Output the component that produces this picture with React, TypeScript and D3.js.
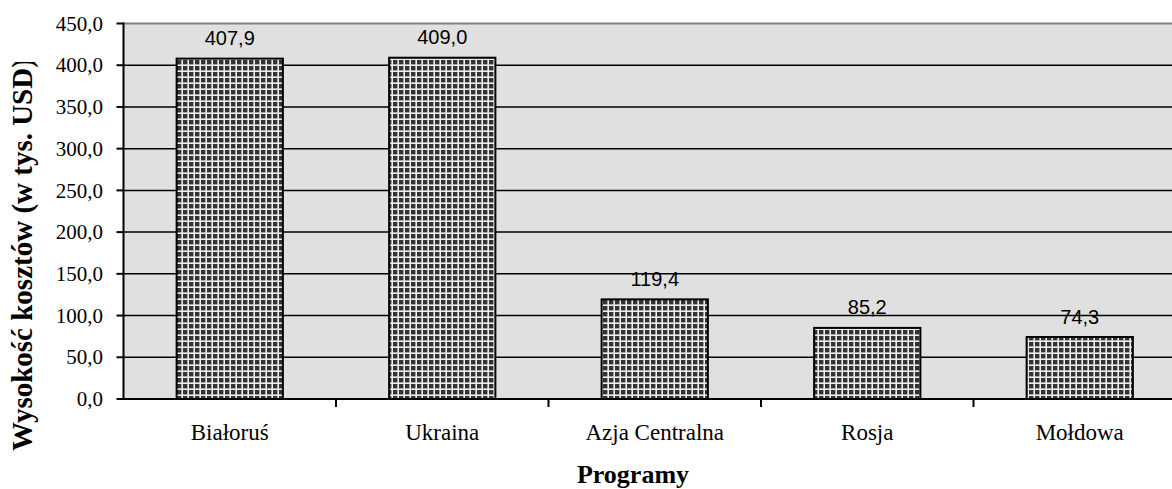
import React from "react";
import * as d3 from "d3";

const categories = ["Białoruś", "Ukraina", "Azja Centralna", "Rosja", "Mołdowa"];
const values = [407.9, 409.0, 119.4, 85.2, 74.3];
const yTicks = [0, 50, 100, 150, 200, 250, 300, 350, 400, 450];
const yTitle = "Wysokość kosztów (w tys. USD)";
const xTitle = "Programy";

const W = 1172;
const H = 489;
const left = 123.5;
const bandW = 212.5;
const top = 23.5;
const bottom = 399;

const SERIF = "'Liberation Serif', 'Times New Roman', serif";
const SANS = "'Liberation Sans', Arial, sans-serif";

const fmt = (v: number) => v.toFixed(1).replace(".", ",");

export default function App() {
  const x = d3
    .scaleBand<string>()
    .domain(categories)
    .range([left, left + bandW * categories.length])
    .paddingInner(0)
    .paddingOuter(0);
  const y = d3.scaleLinear().domain([0, 450]).range([bottom, top]);
  const barW = x.bandwidth() / 2;
  const right = left + bandW * categories.length;

  return (
    <svg
      width={W}
      height={H}
      style={{ position: "absolute", left: 0, top: 0, background: "#fff" }}
    >
      <defs>
        <pattern id="grid" width="6" height="6" patternUnits="userSpaceOnUse" x="177" y="0">
          <rect width="6" height="6" fill="#eeeeee" />
          <rect x="0" y="0" width="4.4" height="4.4" fill="#333333" />
        </pattern>
        <clipPath id="ytclip">
          <rect x="0" y="62" width="60" height="420" />
        </clipPath>
      </defs>
      {/* plot area */}
      <rect x={left} y={top} width={right - left} height={bottom - top} fill="#e0e0e0" />
      <line x1={left} x2={right} y1={top} y2={top} stroke="#808080" strokeWidth={2} />
      {yTicks
        .filter((t) => t > 0 && t < 450)
        .map((t) => (
          <line key={t} x1={left} x2={right} y1={y(t)} y2={y(t)} stroke="#000" strokeWidth={1.5} />
        ))}
      {/* bars */}
      {categories.map((c, i) => {
        const bx = (x(c) as number) + (x.bandwidth() - barW) / 2;
        return (
          <g key={c}>
            <rect
              x={bx}
              y={y(values[i])}
              width={barW}
              height={bottom - y(values[i])}
              fill="url(#grid)"
              stroke="#000"
              strokeWidth={2}
            />
            <text
              x={bx + barW / 2}
              y={y(values[i]) - 13.5}
              textAnchor="middle"
              fontFamily={SANS}
              fontSize={20}
              fill="#000"
            >
              {fmt(values[i])}
            </text>
            <text
              x={bx + barW / 2}
              y={440}
              textAnchor="middle"
              fontFamily={SERIF}
              fontSize={23}
              fill="#000"
            >
              {c}
            </text>
          </g>
        );
      })}
      {/* axes */}
      <line x1={left} x2={left} y1={top - 1} y2={bottom + 1} stroke="#000" strokeWidth={2} />
      <line x1={left - 1} x2={W} y1={bottom} y2={bottom} stroke="#000" strokeWidth={2} />
      {yTicks.map((t) => (
        <g key={t}>
          <line x1={left - 7} x2={left} y1={y(t)} y2={y(t)} stroke="#000" strokeWidth={2} />
          <text
            x={103}
            y={y(t)}
            dy="0.34em"
            textAnchor="end"
            fontFamily={SERIF}
            fontSize={21}
            fill="#000"
          >
            {fmt(t)}
          </text>
        </g>
      ))}
      {categories.map((c, i) =>
        i === 0 ? null : (
          <line
            key={c}
            x1={x(c) as number}
            x2={x(c) as number}
            y1={bottom}
            y2={bottom + 8}
            stroke="#000"
            strokeWidth={2}
          />
        )
      )}
      <text
        x={633}
        y={483}
        textAnchor="middle"
        fontFamily={SERIF}
        fontWeight="bold"
        fontSize={26}
        fill="#000"
      >
        {xTitle}
      </text>
      <g clipPath="url(#ytclip)">
        <text
          transform="translate(32,451) rotate(-90)"
          textAnchor="start"
          fontFamily={SERIF}
          fontWeight="bold"
          fontSize={29}
          fill="#000"
        >
          {yTitle}
        </text>
      </g>
    </svg>
  );
}
